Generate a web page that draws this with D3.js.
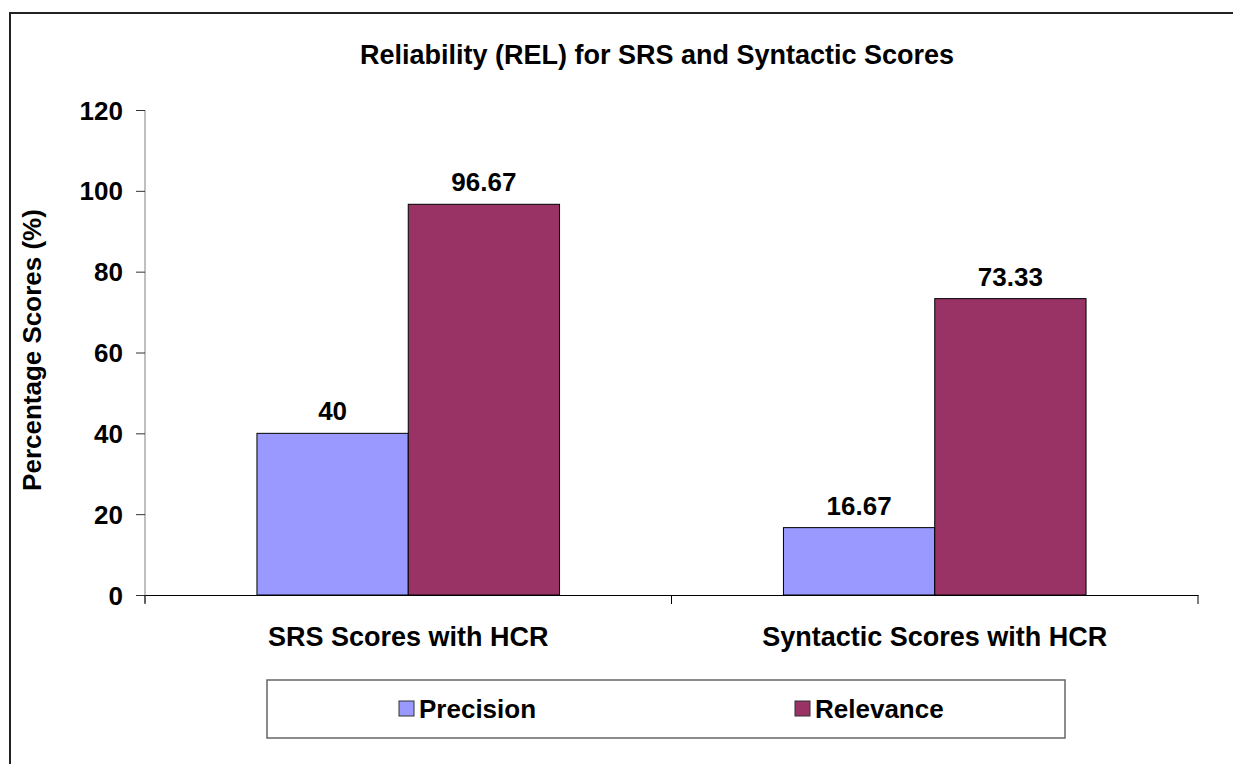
<!DOCTYPE html>
<html>
<head>
<meta charset="utf-8">
<script src="https://cdn.jsdelivr.net/npm/d3@7"></script>
<style>
  body { margin: 0; background: #fff; }
  text { font-family: "Liberation Sans", Arial, sans-serif; font-weight: bold; fill: #000; }
</style>
</head>
<body>
<svg width="1233" height="764"></svg>
<script>
var svg = d3.select('svg');

const categories = ['SRS Scores with HCR', 'Syntactic Scores with HCR'];
const seriesNames = ['Precision', 'Relevance'];
const precision = [40, 16.67];
const relevance = [96.67, 73.33];
const yTicks = [0, 20, 40, 60, 80, 100, 120];
const colors = ['#9999ff', '#993366'];

const data = categories.map((c, i) => ({
  cat: c,
  values: [
    {name: seriesNames[0], value: precision[i]},
    {name: seriesNames[1], value: relevance[i]}
  ]
}));

// outer frame (runs past the right and bottom edges)
svg.append('rect')
  .attr('x', 10).attr('y', 13)
  .attr('width', 1240).attr('height', 760)
  .attr('fill', 'none')
  .attr('stroke', '#222')
  .attr('stroke-width', 2);

svg.append('text')
  .attr('x', 657).attr('y', 64)
  .attr('text-anchor', 'middle')
  .style('font-size', '27px')
  .text('Reliability (REL) for SRS and Syntactic Scores');

const plotLeft = 145, plotRight = 1198, plotTop = 110, plotBottom = 595;

const yScale = d3.scaleLinear().domain([0, 120]).range([plotBottom, plotTop]);
const x0 = d3.scaleBand().domain(categories).range([plotLeft, plotRight]).padding(0);
const x1 = d3.scaleBand().domain(seriesNames).range([0, x0.bandwidth()])
  .paddingInner(0).paddingOuter(0.74);

// y axis
const yAxis = svg.append('g')
  .attr('transform', `translate(${plotLeft},0)`)
  .call(d3.axisLeft(yScale).tickValues(yTicks).tickSize(9).tickPadding(13).tickSizeOuter(0));
yAxis.select('.domain').attr('stroke', '#808080').attr('d', `M0,${plotTop}V${plotBottom + 8}`);
yAxis.selectAll('.tick line').attr('stroke', '#333');
yAxis.selectAll('.tick text')
  .style('font-size', '26px')
  .style('font-family', '"Liberation Sans", Arial, sans-serif')
  .attr('dy', '0.35em');

svg.append('text')
  .attr('transform', `translate(41,350) rotate(-90)`)
  .attr('text-anchor', 'middle')
  .style('font-size', '26px')
  .text('Percentage Scores (%)');

// bars
const groups = svg.selectAll('g.cat').data(data)
  .enter().append('g')
  .attr('class', 'cat')
  .attr('transform', d => `translate(${x0(d.cat)},0)`);

groups.selectAll('rect').data(d => d.values)
  .enter().append('rect')
  .attr('x', d => x1(d.name))
  .attr('y', d => yScale(d.value))
  .attr('width', x1.bandwidth())
  .attr('height', d => plotBottom - yScale(d.value))
  .attr('fill', (d, i) => colors[i])
  .attr('stroke', '#000')
  .attr('stroke-width', 1);

groups.selectAll('text.val').data(d => d.values)
  .enter().append('text')
  .attr('class', 'val')
  .attr('x', d => x1(d.name) + x1.bandwidth() / 2)
  .attr('y', d => yScale(d.value) - 13)
  .attr('text-anchor', 'middle')
  .style('font-size', '26px')
  .text(d => d.value);

// x axis
const xAxis = svg.append('g')
  .attr('transform', `translate(0,${plotBottom})`)
  .call(d3.axisBottom(x0).tickSize(0).tickPadding(32));
xAxis.select('.domain').attr('stroke', '#000');
xAxis.selectAll('.tick text')
  .style('font-size', '27px')
  .style('font-family', '"Liberation Sans", Arial, sans-serif');
const xTickPos = [plotLeft, x0(categories[1]), plotRight];
xAxis.selectAll('line.sep').data(xTickPos)
  .enter().append('line')
  .attr('class', 'sep')
  .attr('x1', d => d).attr('x2', d => d)
  .attr('y1', 0).attr('y2', 9)
  .attr('stroke', '#000');

// legend
const legend = svg.append('g');
legend.append('rect')
  .attr('x', 267).attr('y', 680)
  .attr('width', 798).attr('height', 58)
  .attr('fill', '#fff')
  .attr('stroke', '#666')
  .attr('stroke-width', 1.5);
const legendX = [399, 795];
const items = legend.selectAll('g.item').data(seriesNames)
  .enter().append('g')
  .attr('transform', (d, i) => `translate(${legendX[i]},701)`);
items.append('rect')
  .attr('width', 15).attr('height', 15)
  .attr('fill', (d, i) => colors[i])
  .attr('stroke', '#333');
items.append('text')
  .attr('x', 20).attr('y', 17)
  .style('font-size', '26px')
  .text(d => d);
</script>
</body>
</html>
